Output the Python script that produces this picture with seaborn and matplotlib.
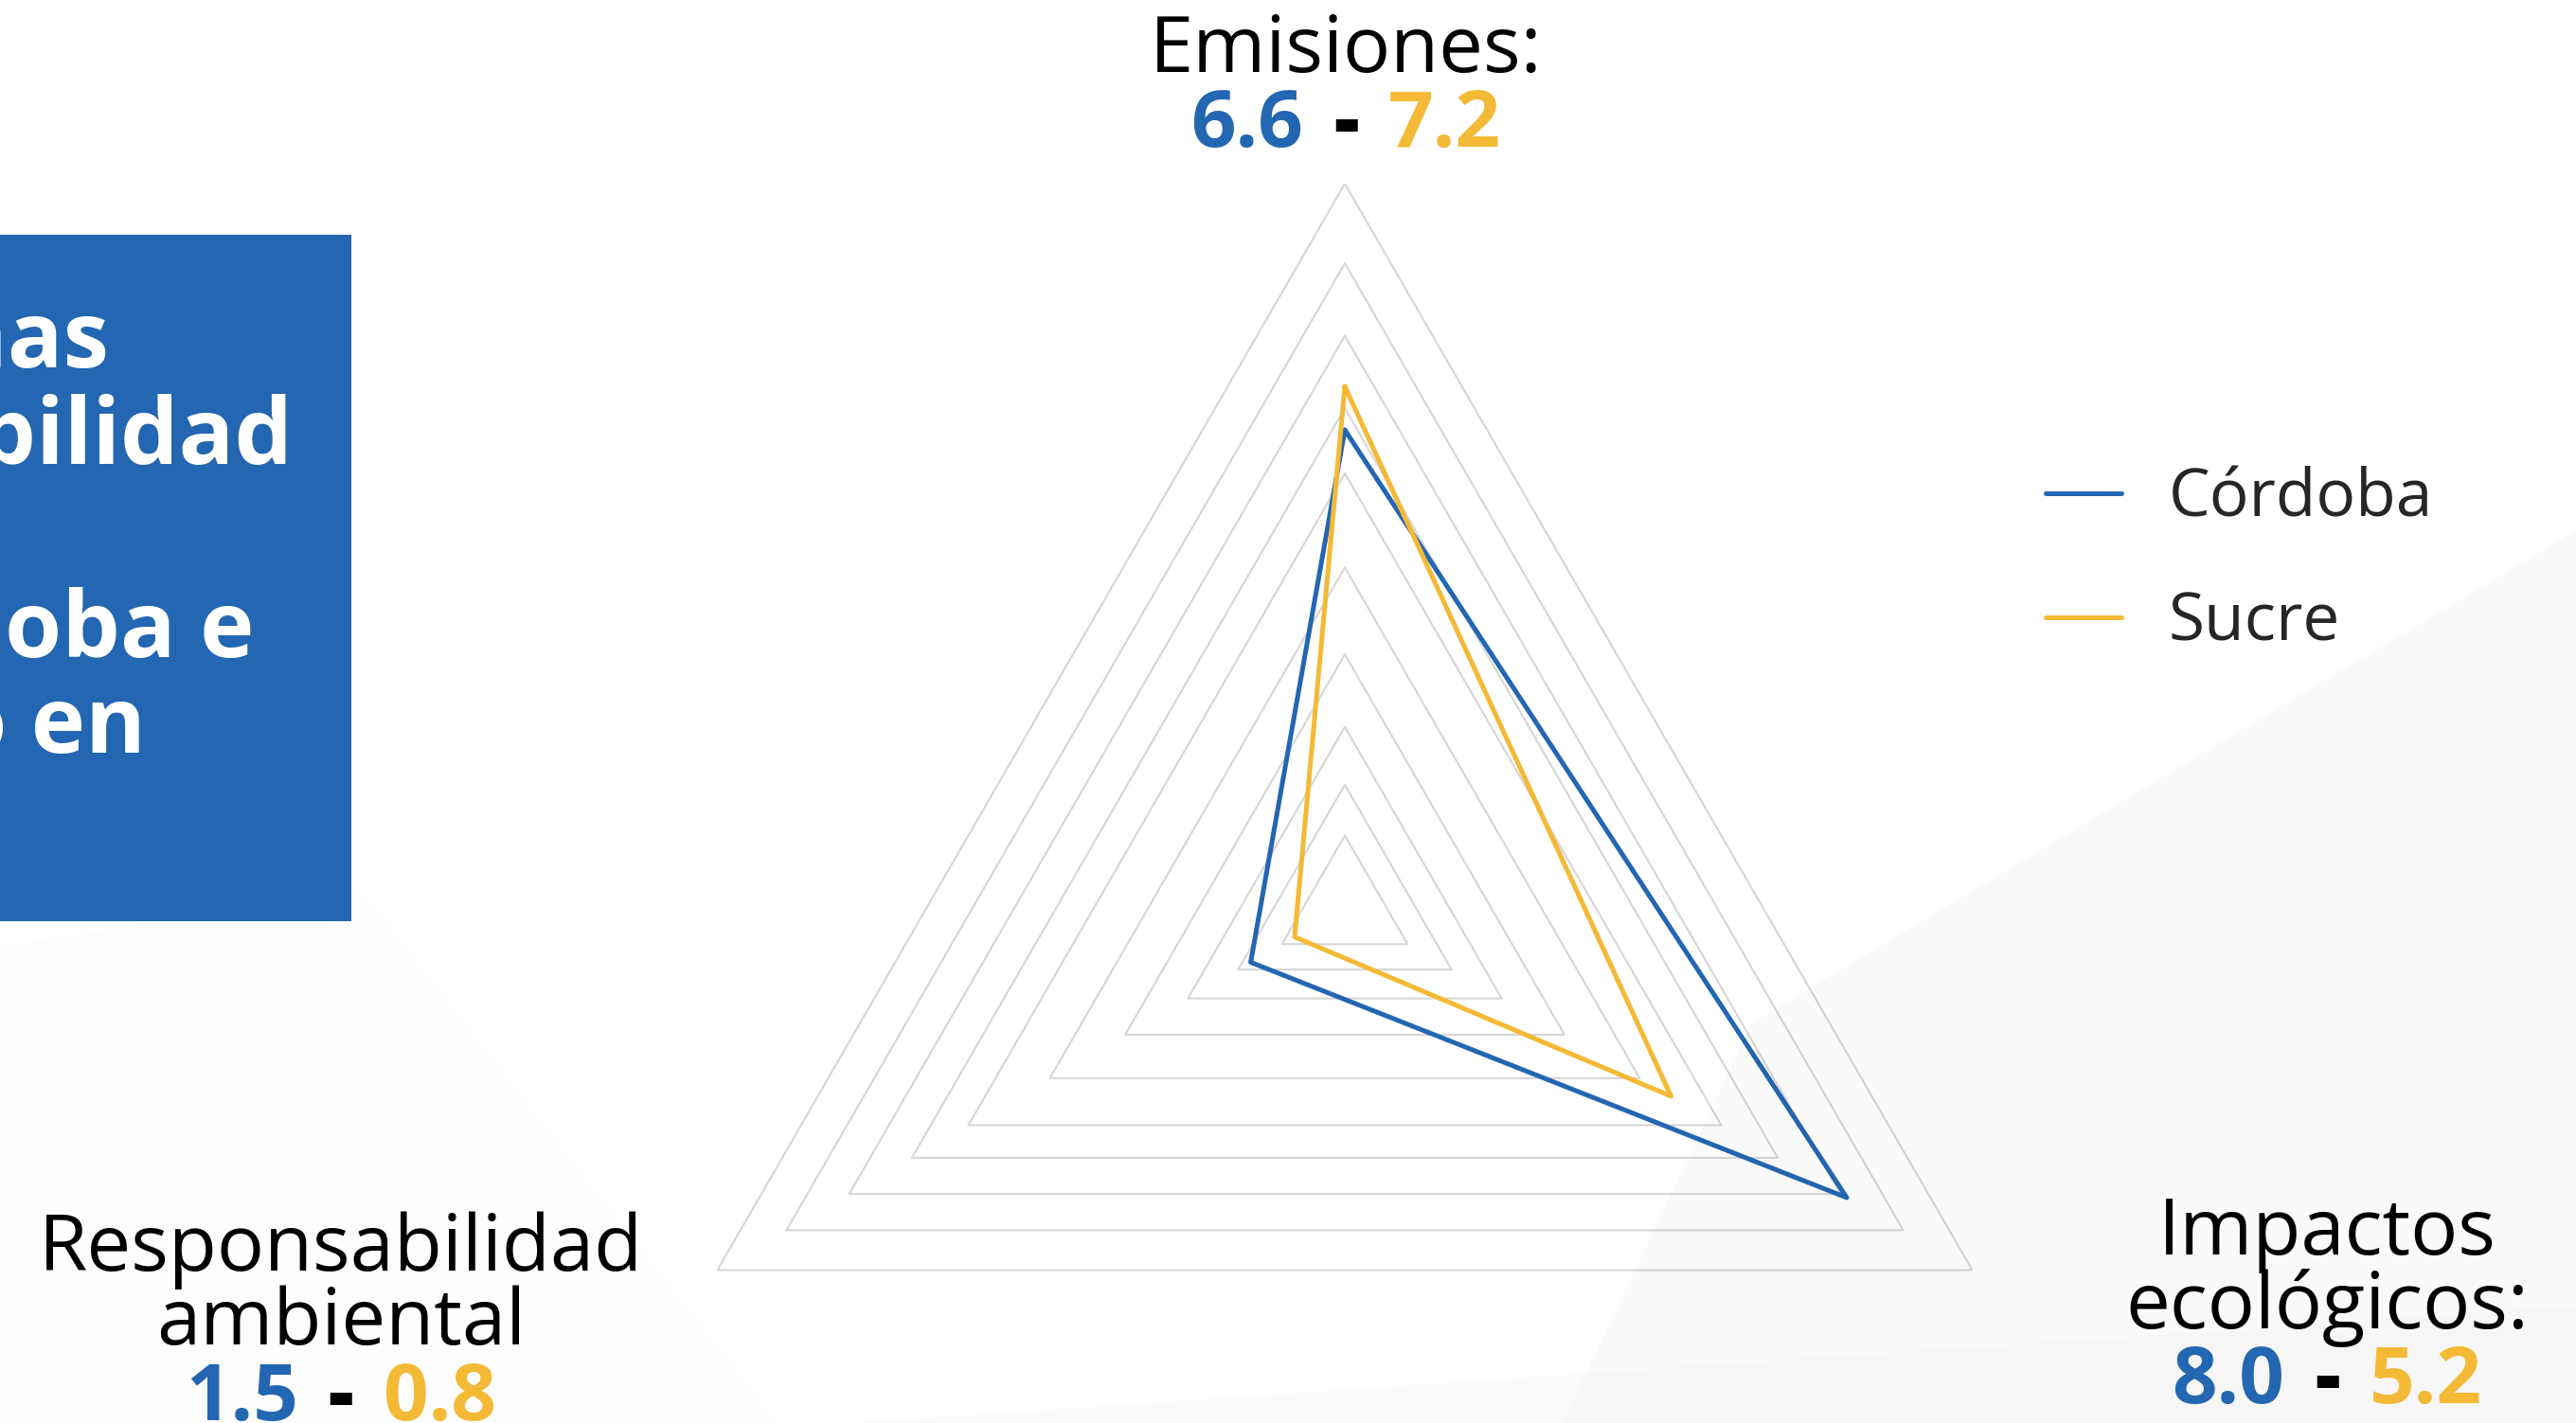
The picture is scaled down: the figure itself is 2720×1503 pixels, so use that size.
import numpy as np
import pandas as pd
import matplotlib
matplotlib.use('Agg')
import matplotlib.pyplot as plt
import matplotlib.transforms as mtransforms
from matplotlib.patches import Polygon, Rectangle
import seaborn as sns

# datos del gráfico
categorias = ['Emisiones', 'Impactos ecológicos', 'Responsabilidad ambiental']
regiones = ['Córdoba', 'Sucre']
cordoba = [6.6, 8.0, 1.5]
sucre = [7.2, 5.2, 0.8]
niveles = [1.0, 1.7, 2.5, 3.5, 4.7, 6.0, 6.9, 7.9, 8.9, 10.0]  # triángulos de la rejilla
etiquetas = [['Emisiones:'], ['Impactos', 'ecológicos:'], ['Responsabilidad', 'ambiental']]
titulo = ['Problemas', 'de sostenibilidad', 'Córdoba e', 'un estudio en']

AZUL = '#2366B1'
AMARILLO = '#F4B935'
GRIS = '#D6D6D6'

W, H, DPI = 2720, 1503, 200


def fx(x):
    return x / W


def fy(y):
    return 1 - y / H


sns.set_style('white')
plt.rcParams['font.family'] = ['Open Sans', 'DejaVu Sans']

fig = plt.figure(figsize=(W / DPI, H / DPI), dpi=DPI)
fig.patch.set_facecolor('white')

# fondo: franjas grises muy suaves
for pts, a in [([(1850, 1080), (2720, 560), (2720, 1503), (1650, 1503)], 0.018),
               ([(0, 1000), (380, 940), (820, 1503), (0, 1503)], 0.008),
               ([(900, 1503), (2720, 1380), (2720, 1503)], 0.015)]:
    fig.patches.append(Polygon([(fx(x), fy(y)) for x, y in pts], closed=True,
                               transform=fig.transFigure, facecolor='black',
                               alpha=a, edgecolor='none', zorder=0))

# caja azul con título recortado
fig.patches.append(Rectangle((0, fy(973)), fx(371), (973 - 248) / H,
                             transform=fig.transFigure, facecolor=AZUL,
                             edgecolor='none', zorder=1))
for txt, xr, yb in zip(titulo, [115, 309, 268, 154], [388, 490, 694, 795]):
    fig.text(fx(xr), fy(yb), txt, ha='right', va='baseline', color='white',
             fontsize=35, fontweight='bold', zorder=2)

# radar
ax = fig.add_axes([fx(1420 - 765), fy(959 + 765), 1530 / W, 1530 / H], projection='polar')
ax.set_theta_offset(np.pi / 2)
ax.set_theta_direction(-1)
ax.patch.set_alpha(0)

theta = [2 * np.pi * i / len(categorias) for i in range(len(categorias))]
theta_c = theta + [2 * np.pi]

for n in niveles:
    ax.plot(theta_c, [n] * len(theta_c), color=GRIS, lw=0.75, zorder=1)

filas = []
for reg, vals in zip(regiones, [cordoba, sucre]):
    for t, v in zip(theta_c, vals + vals[:1]):
        filas.append({'region': reg, 'theta': t, 'valor': v})
df = pd.DataFrame(filas)

sns.lineplot(data=df, x='theta', y='valor', hue='region', palette=[AZUL, AMARILLO],
             sort=False, estimator=None, lw=1.8, ax=ax, zorder=3)

ax.set_ylim(0, 10)
ax.set_xticks([])
ax.set_yticks([])
ax.grid(False)
ax.spines['polar'].set_visible(False)
ax.set_xlabel('')
ax.set_ylabel('')

leg = ax.legend(loc='upper left', bbox_to_anchor=(fx(2160), fy(492)),
                bbox_transform=fig.transFigure, frameon=False,
                prop={'size': 25, 'weight': 'medium'},
                handlelength=1.15, handletextpad=0.72, labelspacing=0.88,
                borderpad=0, borderaxespad=0)
for ln in leg.get_lines():
    ln.set_linewidth(1.8)

# etiquetas de los ejes con los valores
pos = [(1421, [76], 155), (2457, [1325, 1403], 1482), (360, [1342, 1420], 1500)]
for lineas, (xc, ybs, yn), a, b in zip(etiquetas, pos, cordoba, sucre):
    for txt, yb in zip(lineas, ybs):
        fig.text(fx(xc), fy(yb), txt, ha='center', va='baseline', fontsize=30,
                 fontweight='medium', color='black')
    fig.text(fx(xc), fy(yn), '-', ha='center', va='baseline', fontsize=30,
             fontweight='heavy', color='black')
    izq = mtransforms.offset_copy(fig.transFigure, fig=fig, x=-45, y=0, units='dots')
    der = mtransforms.offset_copy(fig.transFigure, fig=fig, x=45, y=0, units='dots')
    fig.text(fx(xc), fy(yn), f'{a:.1f}', transform=izq, ha='right', va='baseline',
             fontsize=30, fontweight='bold', color=AZUL)
    fig.text(fx(xc), fy(yn), f'{b:.1f}', transform=der, ha='left', va='baseline',
             fontsize=30, fontweight='bold', color=AMARILLO)

fig.savefig('out.png', dpi=DPI, facecolor='white')
plt.close(fig)
